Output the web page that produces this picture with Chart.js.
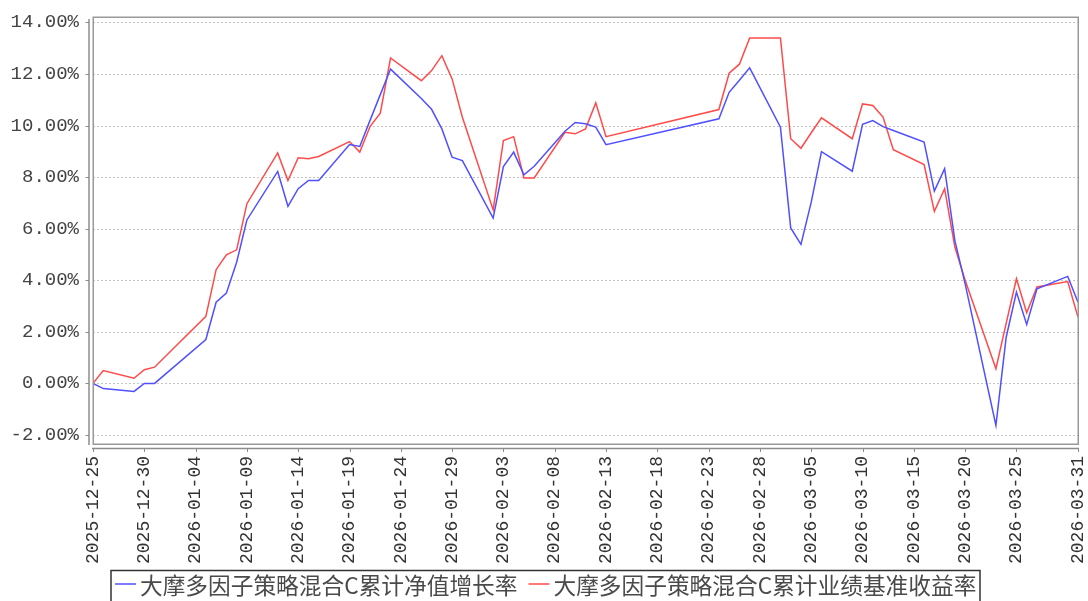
<!DOCTYPE html>
<html>
<head>
<meta charset="utf-8">
<script src="https://cdn.jsdelivr.net/npm/chart.js@4.4.1/dist/chart.umd.min.js"></script>
<style>
html,body{margin:0;padding:0;background:#fff;}
#wrap{width:1088px;height:601px;position:relative;}
</style>
</head>
<body>
<div id="wrap"><canvas id="c" width="1088" height="601"></canvas></div>
<script>
// ---- data ----
const dates = ['2025-12-25','2025-12-26','2025-12-29','2025-12-30','2025-12-31',
  '2026-01-05','2026-01-06','2026-01-07','2026-01-08','2026-01-09',
  '2026-01-12','2026-01-13','2026-01-14','2026-01-15','2026-01-16',
  '2026-01-19','2026-01-20','2026-01-21','2026-01-22','2026-01-23',
  '2026-01-26','2026-01-27','2026-01-28','2026-01-29','2026-01-30',
  '2026-02-02','2026-02-03','2026-02-04','2026-02-05','2026-02-06',
  '2026-02-09','2026-02-10','2026-02-11','2026-02-12','2026-02-13',
  '2026-02-24','2026-02-25','2026-02-26','2026-02-27',
  '2026-03-02','2026-03-03','2026-03-04','2026-03-05','2026-03-06',
  '2026-03-09','2026-03-10','2026-03-11','2026-03-12','2026-03-13',
  '2026-03-16','2026-03-17','2026-03-18','2026-03-19','2026-03-20',
  '2026-03-23','2026-03-24','2026-03-25','2026-03-26','2026-03-27',
  '2026-03-30','2026-03-31'];
const navGrowth = [0.00,-0.20,-0.31,0.00,0.00,
  1.70,3.15,3.50,4.70,6.34,
  8.22,6.87,7.55,7.87,7.87,
  9.26,9.19,10.20,11.20,12.19,
  11.05,10.63,9.87,8.77,8.64,
  6.41,8.41,8.97,8.09,8.42,
  9.78,10.12,10.07,9.94,9.26,
  10.26,11.29,11.76,12.24,
  9.94,6.03,5.39,7.03,8.99,
  8.23,10.05,10.19,9.96,9.81,
  9.36,7.46,8.33,5.54,3.86,
  -1.63,1.79,3.54,2.29,3.67,
  4.15,3.15];
const benchmark = [0.00,0.50,0.20,0.53,0.63,
  2.60,4.41,4.99,5.18,6.97,
  8.94,7.87,8.75,8.71,8.80,
  9.38,8.97,9.96,10.48,12.62,
  11.74,12.13,12.71,11.81,10.32,
  6.73,9.42,9.57,7.97,7.97,
  9.74,9.68,9.87,10.88,9.57,
  10.62,12.03,12.38,13.40,
  13.40,9.49,9.12,9.72,10.30,
  9.49,10.84,10.78,10.33,9.06,
  8.49,6.67,7.55,5.29,4.00,
  0.57,2.33,4.06,2.74,3.74,
  3.95,2.57];
const xTickLabels = ['2025-12-25','2025-12-30','2026-01-04','2026-01-09','2026-01-14',
  '2026-01-19','2026-01-24','2026-01-29','2026-02-03','2026-02-08','2026-02-13',
  '2026-02-18','2026-02-23','2026-02-28','2026-03-05','2026-03-10','2026-03-15',
  '2026-03-20','2026-03-25','2026-03-31'];
const yTickValues = [-2,0,2,4,6,8,10,12,14];
const seriesNames = ['大摩多因子策略混合C累计净值增长率','大摩多因子策略混合C累计业绩基准收益率'];

// ---- helpers ----
const DAY = 86400000;
const t0 = Date.parse(dates[0] + 'T00:00:00Z');
const dayOf = s => Math.round((Date.parse(s + 'T00:00:00Z') - t0) / DAY);
const tickDays = xTickLabels.map(dayOf);
const labelByDay = {};
xTickLabels.forEach((s, i) => { labelByDay[tickDays[i]] = s; });
const toPts = arr => arr.map((v, i) => ({x: dayOf(dates[i]), y: v}));

const AXIS_GRAY = '#8c8c8c';

const decor = {
  id: 'decor',
  beforeDatasetsDraw(chart) {
    const {ctx, chartArea: a, scales: {y}} = chart;
    ctx.save();
    ctx.strokeStyle = '#c4c4c4';
    ctx.lineWidth = 1;
    ctx.setLineDash([2, 2]);
    yTickValues.forEach(v => {
      const py = Math.round(y.getPixelForValue(v)) + 0.5;
      ctx.beginPath(); ctx.moveTo(a.left, py); ctx.lineTo(a.right, py); ctx.stroke();
    });
    ctx.restore();
  },
  afterDraw(chart) {
    const {ctx, chartArea: a, scales: {x, y}} = chart;
    ctx.save();
    // plot border
    ctx.strokeStyle = '#999';
    ctx.lineWidth = 1.5;
    ctx.strokeRect(a.left + 0.25, a.top + 0.25, a.right - a.left, a.bottom - a.top);
    // y axis line + ticks
    ctx.strokeStyle = AXIS_GRAY;
    ctx.lineWidth = 1.5;
    const ax = a.left - 4;
    ctx.beginPath(); ctx.moveTo(ax, a.top + 2); ctx.lineTo(ax, a.bottom + 1); ctx.stroke();
    ctx.lineWidth = 1;
    yTickValues.forEach(v => {
      const py = Math.round(y.getPixelForValue(v)) + 0.5;
      ctx.beginPath(); ctx.moveTo(ax - 3.5, py); ctx.lineTo(ax, py); ctx.stroke();
    });
    // x axis line + ticks
    ctx.lineWidth = 1.5;
    const ay = a.bottom + 4.5;
    ctx.beginPath(); ctx.moveTo(a.left - 1, ay); ctx.lineTo(a.right + 1, ay); ctx.stroke();
    ctx.lineWidth = 1;
    tickDays.forEach(d => {
      const px = Math.round(x.getPixelForValue(d)) + 0.5;
      ctx.beginPath(); ctx.moveTo(px, ay); ctx.lineTo(px, ay + 3.5); ctx.stroke();
    });
    // legend
    ctx.strokeStyle = '#333';
    ctx.lineWidth = 1.5;
    ctx.strokeRect(111, 570.5, 869, 40);
    ctx.font = '22.7px "Noto Sans CJK SC", sans-serif';
    ctx.textBaseline = 'middle';
    ctx.fillStyle = '#4a4a4a';
    let lx = 115;
    const ly = 584;
    chart.data.datasets.forEach((ds, i) => {
      ctx.strokeStyle = ds.borderColor;
      ctx.lineWidth = 1.5;
      ctx.beginPath(); ctx.moveTo(lx, ly); ctx.lineTo(lx + 21, ly); ctx.stroke();
      const tx = lx + 25;
      ctx.fillText(ds.label, tx, ly + 1);
      lx = tx + ctx.measureText(ds.label).width + 11;
    });
    ctx.restore();
  }
};

new Chart(document.getElementById('c'), {
  type: 'line',
  data: {
    datasets: [
      {label: seriesNames[0], data: toPts(navGrowth), borderColor: '#5050ff', borderWidth: 1.5,
       pointRadius: 0, tension: 0, fill: false},
      {label: seriesNames[1], data: toPts(benchmark), borderColor: '#ff4a4a', borderWidth: 1.5,
       pointRadius: 0, tension: 0, fill: false}
    ]
  },
  options: {
    responsive: false,
    animation: false,
    devicePixelRatio: 1,
    layout: {padding: {top: 17, right: 10, left: 0, bottom: 0}},
    plugins: {legend: {display: false}, tooltip: {enabled: false}, title: {display: false}},
    scales: {
      x: {
        type: 'linear', min: 0, max: dayOf(xTickLabels[xTickLabels.length - 1]), offset: false,
        grid: {display: false, drawTicks: false},
        border: {display: false},
        afterBuildTicks: s => { s.ticks = tickDays.map(v => ({value: v})); },
        afterFit: s => { s.height = 157; s.paddingLeft = 0; s.paddingRight = 0; },
        ticks: {
          autoSkip: false, maxRotation: 90, minRotation: 90, padding: 12,
          color: '#333', font: {family: '"Liberation Mono", monospace', size: 18},
          callback: v => labelByDay[v] || ''
        }
      },
      y: {
        type: 'linear', min: -2.35, max: 14.21,
        grid: {display: false, drawTicks: false},
        border: {display: false},
        afterBuildTicks: s => { s.ticks = yTickValues.map(v => ({value: v})); },
        afterFit: s => { s.width = 93; s.paddingTop = 0; s.paddingBottom = 0; },
        ticks: {
          padding: 14, color: '#444',
          font: {family: '"Liberation Mono", monospace', size: 19},
          callback: v => v.toFixed(2) + '%'
        }
      }
    }
  },
  plugins: [decor]
});
</script>
</body>
</html>
